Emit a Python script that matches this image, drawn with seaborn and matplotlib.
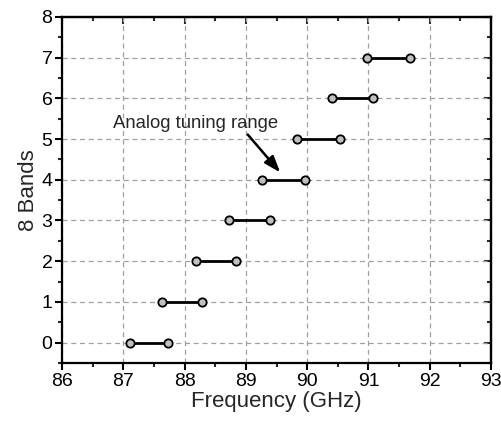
import matplotlib
matplotlib.use("Agg")
import matplotlib.pyplot as plt
import seaborn as sns
import pandas as pd
from matplotlib.ticker import MultipleLocator

bands = [0, 1, 2, 3, 4, 5, 6, 7]
f_start = [87.10, 87.63, 88.18, 88.73, 89.27, 89.84, 90.40, 90.98]
f_stop = [87.73, 88.29, 88.84, 89.40, 89.96, 90.54, 91.08, 91.68]

rows = []
for b, s, e in zip(bands, f_start, f_stop):
    rows.append({"band": b, "freq": s})
    rows.append({"band": b, "freq": e})
df = pd.DataFrame(rows)

sns.set_theme(style="ticks")
plt.rcParams['font.family'] = ['Liberation Sans', 'DejaVu Sans']

fig = plt.figure(figsize=(5.01, 4.24), dpi=100)
ax = fig.add_axes([0.124, 0.144, 0.856, 0.816])

ax.grid(True, which='major', color='#a0a0a0', linestyle=(0, (4, 3)), linewidth=0.9)
ax.set_axisbelow(True)

sns.lineplot(data=df, x="freq", y="band", units="band", estimator=None,
             sort=False, color='black', linewidth=2.0, marker='o',
             markersize=6, markerfacecolor='#c0c0c0', markeredgecolor='black',
             markeredgewidth=1.3, legend=False, ax=ax)

ax.set_xlim(86, 93)
ax.set_ylim(-0.5, 8)
ax.xaxis.set_major_locator(MultipleLocator(1))
ax.xaxis.set_minor_locator(MultipleLocator(0.5))
ax.yaxis.set_major_locator(MultipleLocator(1))
ax.yaxis.set_minor_locator(MultipleLocator(0.5))
ax.set_yticks(range(0, 9))

ax.tick_params(which='major', direction='out', length=5, width=1.5, labelsize=14,
               colors='black', pad=2)
ax.tick_params(which='minor', direction='out', length=3, width=1.5)
for sp in ax.spines.values():
    sp.set_linewidth(1.6)
    sp.set_color('black')

top = ax.secondary_xaxis('top')
top.xaxis.set_major_locator(MultipleLocator(1))
top.xaxis.set_minor_locator(MultipleLocator(0.5))
top.tick_params(which='major', direction='in', length=5, width=1.5, labeltop=False)
top.tick_params(which='minor', direction='in', length=3, width=1.5)
top.spines['top'].set_linewidth(1.6)

right = ax.secondary_yaxis('right')
right.yaxis.set_major_locator(MultipleLocator(1))
right.yaxis.set_minor_locator(MultipleLocator(0.5))
right.tick_params(which='major', direction='in', length=5, width=1.5, labelright=False)
right.tick_params(which='minor', direction='in', length=3, width=1.5)
right.spines['right'].set_linewidth(1.6)

ax.set_xlabel("Frequency (GHz)", fontsize=16, labelpad=1)
ax.set_ylabel("8 Bands", fontsize=16, labelpad=2)

ax.text(86.83, 5.27, "Analog tuning range", fontsize=13.3, ha='left', va='baseline')
ax.annotate("", xy=(89.56, 4.18), xytext=(89.03, 5.11),
            arrowprops=dict(arrowstyle='-|>,head_length=0.7,head_width=0.25',
                            color='black', lw=1.8,
                            mutation_scale=14, shrinkA=0, shrinkB=0))

fig.savefig("out.png", dpi=100)
